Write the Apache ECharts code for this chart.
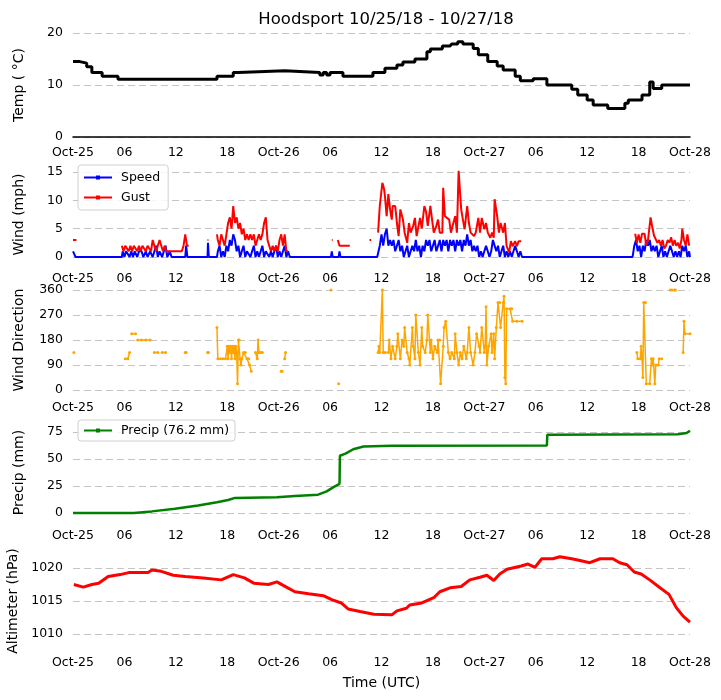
<!DOCTYPE html>
<html>
<head>
<meta charset="utf-8">
<title>Hoodsport</title>
<script src="https://cdn.jsdelivr.net/npm/echarts@6/dist/echarts.min.js"></script>
<style>
  html, body { margin: 0; padding: 0; background: #fff; }
  #main { width: 721px; height: 700px; }
</style>
</head>
<body>
<div id="main"></div>
<script>
// x axis: hours since Oct-25 00:00 UTC
const xTickLabels = ['Oct-25', '06', '12', '18', 'Oct-26', '06', '12', '18', 'Oct-27', '06', '12', '18', 'Oct-28']

// temperature (°C), step changes [hour, value]
const tempPoints = [
  [0, 14.5], [0.8, 14.2], [1.6, 13.5], [2.2, 12.4], [3.4, 11.7], [5.25, 11.1], [16.8, 11.7], [18.7, 12.4],
  [19.3, 12.75], [24.7, 12.4], [28.8, 11.9], [29.2, 12.4], [29.6, 11.9], [30.0, 12.4], [31.5, 11.7],
  [35.0, 12.4], [36.4, 13.2], [37.8, 13.85], [38.5, 14.4], [39.9, 15.0], [41.3, 16.4], [41.7, 16.9],
  [43.1, 17.5], [44.0, 17.3], [44.2, 17.9], [44.9, 18.3], [45.5, 17.9], [46.7, 17.0], [47.3, 15.8],
  [48.4, 14.5], [49.5, 13.65], [50.2, 12.9], [51.6, 11.7], [52.2, 10.8], [53.7, 11.2], [55.3, 10.0],
  [58.2, 9.2], [58.9, 8.1], [60.0, 7.1], [60.7, 6.15], [62.4, 5.5], [64.4, 6.5], [64.8, 7.1], [66.4, 8.1],
  [67.3, 10.6], [67.7, 9.35], [68.7, 10.0], [72, 10.0]
]

// wind speed (mph)
const speedPoints = [
  [0, 1], [0.15, 1], [0.3, 0], [5.7, 0], [5.8, 1], [6.0, 0], [6.2, 1], [6.4, 1], [6.6, 0], [6.8, 1], [7.0, 0],
  [7.2, 1], [7.5, 0], [7.7, 1], [8.0, 1], [8.2, 0], [8.5, 1], [8.7, 0], [9.0, 1], [9.3, 0], [9.5, 1], [9.7, 2],
  [9.9, 0], [10.1, 1], [10.4, 0], [10.6, 1], [10.8, 2], [11.0, 0], [11.3, 1], [11.5, 0], [13.1, 0], [13.2, 2],
  [13.35, 0], [15.7, 0], [15.75, 2.5], [15.85, 0], [16.8, 0], [16.9, 1], [17.1, 2], [17.3, 0], [17.5, 1],
  [17.7, 0], [17.9, 2], [18.1, 1], [18.3, 3], [18.5, 2], [18.7, 4], [18.9, 3], [19.1, 1], [19.3, 2], [19.5, 0],
  [19.7, 1], [19.9, 2], [20.1, 0], [20.3, 1], [20.5, 1], [20.7, 0], [20.9, 1], [21.1, 2], [21.3, 0], [21.5, 1],
  [21.7, 0], [21.9, 1], [22.1, 2], [22.3, 0], [22.5, 1], [22.7, 1], [22.9, 0], [23.1, 1], [23.3, 0], [23.5, 1],
  [23.7, 2], [23.9, 0], [24.1, 1], [24.3, 0], [24.5, 1], [24.7, 2], [24.9, 0], [25.1, 1], [25.3, 0],
  [30.1, 0], [30.2, 1], [30.3, 0], [31.0, 0], [31.1, 1], [31.2, 0],
  [35.5, 0], [35.8, 2], [36.0, 4], [36.2, 2], [36.4, 4], [36.6, 5], [36.8, 2], [37.0, 3], [37.2, 2], [37.4, 3],
  [37.6, 1], [37.8, 2], [38.0, 3], [38.2, 1], [38.4, 2], [38.6, 0], [38.8, 1], [39.0, 2], [39.2, 0], [39.4, 1],
  [39.6, 2], [39.8, 1], [40.0, 3], [40.2, 1], [40.4, 2], [40.6, 0], [40.8, 2], [41.0, 1], [41.2, 3], [41.4, 2],
  [41.6, 3], [41.8, 1], [42.0, 2], [42.2, 3], [42.4, 1], [42.6, 2], [42.8, 3], [43.0, 1], [43.2, 3], [43.4, 2],
  [43.6, 3], [43.8, 1], [44.0, 3], [44.2, 2], [44.4, 3], [44.6, 1], [44.8, 3], [45.0, 2], [45.2, 3], [45.4, 1],
  [45.6, 3], [45.8, 2], [46.0, 4], [46.2, 2], [46.4, 3], [46.6, 1], [46.8, 2], [47.0, 1], [47.2, 2], [47.4, 0],
  [47.6, 1], [47.8, 0], [48.0, 1], [48.2, 2], [48.4, 1], [48.6, 0], [48.8, 1], [49.0, 3], [49.2, 3], [49.4, 1],
  [49.6, 2], [49.8, 0], [50.0, 1], [50.2, 2], [50.4, 0], [50.6, 1], [50.8, 0], [51.0, 1], [51.2, 0], [51.4, 1],
  [51.6, 2], [51.8, 1], [52.0, 0], [52.2, 1], [52.4, 0],
  [65.3, 0], [65.5, 2], [65.7, 3], [65.9, 1], [66.1, 2], [66.3, 0], [66.5, 2], [66.7, 1], [66.9, 3], [67.1, 2],
  [67.3, 3], [67.5, 1], [67.7, 2], [67.9, 1], [68.1, 2], [68.3, 0], [68.5, 1], [68.7, 2], [68.9, 0], [69.1, 1],
  [69.3, 0], [69.5, 1], [69.7, 2], [69.9, 1], [70.1, 0], [70.3, 1], [70.5, 0], [70.7, 1], [70.9, 0], [71.1, 2],
  [71.3, 1], [71.5, 2], [71.7, 0], [71.9, 1], [72.0, 0]
]

// wind gust (mph), null = no gust reported
const gustPoints = [
  [0, 3], [0.4, 3], [0.45, null],
  [5.7, 2], [5.9, 1], [6.1, 2], [6.3, 2], [6.5, 1], [6.7, 2], [6.9, 1], [7.1, 2], [7.3, 2], [7.5, 1], [7.7, 2],
  [7.9, 1], [8.1, 2], [8.3, 2], [8.5, 1], [8.7, 2], [8.9, 2], [9.1, 1], [9.3, 3], [9.5, 2], [9.7, 1], [9.9, 2],
  [10.1, 3], [10.3, 2], [10.5, 1], [10.7, 2], [10.9, 1], [11.1, 1], [11.5, 1], [11.9, 1], [12.3, 1], [12.7, 1],
  [12.9, 2], [13.1, 4], [13.2, 4], [13.3, 2], [13.5, 2], [13.6, null],
  [15.7, 3], [15.8, 3], [15.9, null],
  [16.8, 4], [16.9, 3], [17.1, 2], [17.3, 4], [17.5, 3], [17.7, 2], [17.9, 4], [18.1, 6], [18.3, 7], [18.5, 5],
  [18.7, 9], [18.9, 6], [19.1, 7], [19.3, 5], [19.5, 6], [19.7, 4], [19.9, 5], [20.1, 3], [20.3, 4], [20.5, 3],
  [20.7, 4], [20.9, 3], [21.1, 4], [21.3, 2], [21.5, 3], [21.7, 4], [21.9, 3], [22.1, 4], [22.3, 6], [22.5, 7],
  [22.7, 3], [22.9, 2], [23.1, 1], [23.3, 2], [23.5, 1], [23.7, 2], [23.9, 1], [24.1, 3], [24.3, 4], [24.5, 2],
  [24.7, 4], [24.9, 1], [25.1, 1], [25.2, null],
  [30.2, 3], [30.3, 3], [30.35, null],
  [30.9, 3], [31.1, 2], [31.4, 2], [31.7, 2], [32.0, 2], [32.3, 2], [32.4, null],
  [34.6, 3], [34.8, 3], [34.9, null],
  [35.6, 4.3], [35.8, 9], [36.1, 13.1], [36.3, 12], [36.4, 10.8], [36.6, 7.2], [36.8, 11.1], [37.0, 8.4],
  [37.2, 6.6], [37.3, 9], [37.6, 9], [37.8, 6], [38.0, 3.7], [38.2, 8.4], [38.5, 6.6], [38.7, 4.3], [39.0, 2.5],
  [39.2, 6], [39.4, 4.3], [39.7, 5.5], [39.9, 6.9], [40.1, 3.7], [40.5, 6.9], [40.7, 5], [41.0, 9], [41.2, 8],
  [41.4, 5.5], [41.7, 9], [41.9, 6.6], [42.1, 4.3], [42.4, 5.5], [42.6, 6.6], [42.8, 4.3], [43.1, 4.3],
  [43.2, 12.2], [43.4, 7.2], [43.6, 7.2], [43.9, 6.6], [44.1, 4.3], [44.3, 5.5], [44.6, 7.2], [44.8, 4.3],
  [45.0, 15.2], [45.3, 8.4], [45.5, 6.6], [45.7, 4.9], [46.0, 9], [46.2, 6], [46.4, 4.3], [46.8, 3.7],
  [47.0, 4.3], [47.3, 6.9], [47.5, 4.3], [47.7, 6.9], [48.0, 4.9], [48.2, 6], [48.4, 4.3], [48.7, 3.4],
  [48.9, 4.3], [49.1, 3.4], [49.2, 10.2], [49.5, 7.2], [49.7, 4.3], [49.9, 6], [50.2, 4.3], [50.4, 6],
  [50.6, 1.9], [50.9, 0.8], [51.1, 2.8], [51.3, 1.9], [51.6, 2.8], [51.8, 1.9], [52.0, 2.8], [52.3, 2.8], [52.4, null],
  [65.6, 4.1], [65.8, 2.5], [66.0, 4], [66.2, 2.5], [66.4, 4.1], [66.7, 4.1], [66.9, 2], [67.1, 3], [67.4, 7],
  [67.6, 5.3], [67.8, 3.8], [68.0, 4], [68.2, 2.5], [68.4, 3], [68.6, 2], [68.8, 3], [69.0, 1.5], [69.2, 2],
  [69.4, 3], [69.6, 2.5], [69.8, 3.5], [70.0, 2], [70.2, 3], [70.4, 2], [70.6, 2.5], [70.8, 1.5], [71.0, 3],
  [71.1, 5], [71.3, 3], [71.5, 2], [71.7, 4], [71.9, 2]
]

// wind direction (deg), null = calm
const dirPoints = [
  [0.1, 135], [0.15, null],
  [6.1, 112.5], [6.4, 112.5], [6.6, 135], [6.65, null], [6.85, 202.5], [7.3, 202.5], [7.35, null],
  [7.55, 180], [8.0, 180], [8.5, 180], [9.0, 180], [9.2, null], [9.5, 135], [9.9, 135], [9.95, null],
  [10.4, 135], [10.8, 135], [10.85, null], [13.1, 135], [13.2, 135], [13.25, null], [15.7, 135], [15.8, 135], [15.85, null],
  [16.8, 225], [16.9, 112.5], [17.2, 112.5], [17.5, 112.5], [17.8, 112.5], [18.0, 157.5], [18.1, 112.5],
  [18.2, 157.5], [18.3, 135], [18.4, 157.5], [18.5, 112.5], [18.6, 157.5], [18.7, 135], [18.8, 157.5],
  [18.9, 112.5], [19.0, 157.5], [19.1, 135], [19.2, 22.5], [19.3, 180], [19.4, 180], [19.5, 112.5], [19.6, 90],
  [19.7, 112.5], [19.9, 135], [20.1, 135], [20.3, 112.5], [20.5, 112.5], [20.6, 90], [20.8, 67.5], [20.9, null],
  [21.3, 135], [21.5, 112.5], [21.6, 180], [21.7, 135], [21.9, 135], [22.1, 135], [22.2, null],
  [24.3, 67.5], [24.4, 67.5], [24.45, null], [24.7, 112.5], [24.8, 135], [24.85, null],
  [30.1, 360], [30.2, null], [31.0, 22.5], [31.05, null],
  [35.6, 135], [35.7, 157.5], [35.8, 135], [36.1, 360], [36.2, 135], [36.4, 135], [36.8, 135], [36.9, 180],
  [37.1, 112.5], [37.3, 157.5], [37.6, 112.5], [37.8, 157.5], [37.9, 202.5], [38.2, 112.5], [38.4, 180],
  [38.6, 157.5], [38.7, 225], [39.0, 135], [39.2, 112.5], [39.3, 90], [39.6, 225], [39.7, 157.5], [39.9, 112.5],
  [40.0, 270], [40.3, 135], [40.5, 90], [40.7, 225], [40.8, 157.5], [41.1, 135], [41.3, 180], [41.4, 270],
  [41.7, 135], [41.8, 180], [42.0, 112.5], [42.2, 157.5], [42.5, 135], [42.6, 180], [42.8, 180], [42.9, 22.5],
  [43.2, 157.5], [43.3, 225], [43.5, 247.5], [43.8, 135], [44.0, 112.5], [44.2, 135], [44.5, 112.5],
  [44.6, 202.5], [44.8, 135], [45.0, 90], [45.2, 135], [45.4, 112.5], [45.6, 157.5], [45.9, 112.5], [46.0, 135],
  [46.2, 225], [46.4, 135], [46.7, 90], [46.9, 135], [47.1, 202.5], [47.4, 157.5], [47.5, 135], [47.7, 225],
  [48.0, 135], [48.1, 157.5], [48.2, 300], [48.3, 90], [48.5, 157.5], [48.8, 202.5], [48.9, 135], [49.1, 202.5],
  [49.2, 112.5], [49.4, 225], [49.6, 315], [49.8, 315], [49.9, 225], [50.2, 315], [50.3, 337.5], [50.4, 45],
  [50.5, 22.5], [50.6, 292.5], [51.0, 292.5], [51.2, 292.5], [51.3, 247.5], [51.8, 247.5], [52.4, 247.5], [52.5, null],
  [65.8, 135], [65.9, 112.5], [66.2, 112.5], [66.3, 157.5], [66.4, 112.5], [66.5, 45], [66.6, 315], [66.8, 315],
  [66.9, 22.5], [67.3, 22.5], [67.5, 112.5], [67.6, 90], [67.7, 112.5], [67.9, 22.5], [68.0, 90], [68.3, 90],
  [68.4, 112.5], [68.7, 112.5], [68.75, null],
  [69.7, 360], [69.9, 360], [70.0, null], [70.2, 360], [70.3, 360], [70.35, null],
  [71.2, 135], [71.3, 247.5], [71.4, 202.5], [72.0, 202.5]
]

// accumulated precipitation (mm)
const precipPoints = [
  [0, 0], [7.1, 0], [9.2, 1.5], [11.9, 4], [14.6, 7], [16.8, 10], [18.1, 12], [18.9, 14], [23.8, 14.5],
  [25.9, 15.8], [28.6, 17], [29.6, 20], [30.4, 24], [31.1, 27], [31.15, 53], [31.8, 55], [32.7, 59],
  [33.9, 61.5], [37.2, 62.3], [55.3, 62.5], [55.35, 72.5], [70.6, 73], [71.6, 74], [72, 76.2]
]

// altimeter (hPa)
const altPoints = [
  [0.1, 1017.5], [1.2, 1017.1], [2.2, 1017.5], [3.0, 1017.7], [4.1, 1018.7], [5.5, 1019.0], [6.5, 1019.3],
  [8.75, 1019.3], [9.2, 1019.7], [10.3, 1019.5], [11.7, 1018.9], [13.1, 1018.7], [15.2, 1018.5], [17.3, 1018.2],
  [18.7, 1019.0], [20.0, 1018.5], [21.1, 1017.7], [22.8, 1017.5], [23.8, 1017.9], [24.9, 1017.1], [25.9, 1016.4],
  [27.5, 1016.1], [29.2, 1015.8], [30.2, 1015.2], [31.3, 1014.7], [32.1, 1013.8], [33.5, 1013.4], [35.1, 1013.0],
  [37.2, 1012.9], [37.8, 1013.5], [38.9, 1013.9], [39.3, 1014.4], [40.7, 1014.7], [42.1, 1015.5], [42.8, 1016.4],
  [44.0, 1017.0], [45.3, 1017.2], [46.3, 1018.2], [47.5, 1018.6], [48.3, 1018.9], [49.1, 1018.1], [49.8, 1019.1],
  [50.65, 1019.8], [52.3, 1020.3], [53.1, 1020.6], [53.9, 1020.1], [54.7, 1021.4], [56.0, 1021.4], [56.8, 1021.7],
  [58.2, 1021.4], [59.3, 1021.1], [60.3, 1020.8], [61.5, 1021.4], [63.0, 1021.4], [63.8, 1020.8], [64.65, 1020.5],
  [65.5, 1019.4], [66.3, 1019.1], [67.3, 1018.2], [68.5, 1017.0], [69.55, 1016.0], [70.4, 1014.0], [71.2, 1012.7],
  [72.0, 1011.8]
]

const FONT = 'DejaVu Sans'
const GRID_LINE = { show: true, lineStyle: { color: '#c4c4c4', type: [7, 4], width: 1 } }

// panel layout: pixel top/height of the value range, label offset under each panel
const panels = [
  { top: 33, height: 104, min: 0, max: 20, interval: 10, name: 'Temp ( °C)', labelMargin: 9, axisLine: true },
  { top: 172, height: 85, min: 0, max: 15, interval: 5, name: 'Wind (mph)', labelMargin: 15 },
  { top: 290, height: 100, min: 0, max: 360, interval: 90, name: 'Wind Direction', labelMargin: 11 },
  { top: 432, height: 81, min: 0, max: 75, interval: 25, name: 'Precip (mm)', labelMargin: 16 },
  { top: 568, height: 66, min: 1010, max: 1020, interval: 5, name: 'Altimeter (hPa)', labelMargin: 22 }
]

const chart = echarts.init(document.getElementById('main'), null, { renderer: 'canvas' })

const grid = panels.map(p => ({
  left: 73, right: 31, top: p.top, height: p.height,
  containLabel: false, outerBoundsMode: 'none'
}))

const xAxis = panels.map((p, i) => ({
  type: 'value',
  gridIndex: i,
  min: 0,
  max: 72,
  interval: 6,
  axisLine: { show: !!p.axisLine, onZero: false, lineStyle: { color: '#000', width: 1.5 } },
  axisTick: { show: false },
  splitLine: { show: false },
  axisLabel: {
    margin: p.labelMargin,
    color: '#000',
    fontFamily: FONT,
    fontSize: 12.5,
    showMinLabel: true,
    showMaxLabel: true,
    formatter: v => xTickLabels[Math.round(v / 6)]
  },
  name: i === panels.length - 1 ? 'Time (UTC)' : '',
  nameLocation: 'middle',
  nameGap: 42,
  nameTextStyle: { color: '#000', fontFamily: FONT, fontSize: 14 }
}))

const yAxis = panels.map((p, i) => ({
  type: 'value',
  gridIndex: i,
  min: p.min,
  max: p.max,
  interval: p.interval,
  axisLine: { show: false },
  axisTick: { show: false },
  splitLine: GRID_LINE,
  axisLabel: { margin: 10, color: '#000', fontFamily: FONT, fontSize: 12.5, formatter: v => String(v) },
  name: p.name,
  nameLocation: 'middle',
  nameGap: 47,
  nameTextStyle: { color: '#000', fontFamily: FONT, fontSize: 14 }
}))

const lineIcon = 'path://M0,4 L28,4 L28,6 L0,6 Z M12,3 L16,3 L16,7 L12,7 Z'

function lineSeries(name, idx, data, color, width, extra) {
  return Object.assign({
    name: name,
    type: 'line',
    xAxisIndex: idx,
    yAxisIndex: idx,
    data: data,
    showSymbol: false,
    clip: false,
    connectNulls: false,
    lineStyle: { color: color, width: width },
    itemStyle: { color: color }
  }, extra || {})
}

const legendBase = {
  orient: 'vertical',
  left: 78,
  itemWidth: 28,
  itemHeight: 10,
  icon: lineIcon,
  borderColor: '#d0d0d0',
  borderWidth: 1,
  borderRadius: 3,
  backgroundColor: 'rgba(255,255,255,0.85)',
  textStyle: { fontFamily: FONT, fontSize: 12.5, color: '#000', padding: [0, 0, 0, 4] }
}

const option = {
  animation: false,
  backgroundColor: '#fff',
  title: {
    text: 'Hoodsport 10/25/18 - 10/27/18',
    left: 381,
    top: 6,
    textAlign: 'center',
    textStyle: { fontFamily: FONT, fontSize: 16.5, fontWeight: 'normal', color: '#000' }
  },
  legend: [
    Object.assign({}, legendBase, { data: ['Speed', 'Gust'], top: 165, padding: [6, 8, 6, 6], itemGap: 7 }),
    Object.assign({}, legendBase, { data: ['Precip (76.2 mm)'], top: 420, padding: [4, 6, 4, 6] })
  ],
  grid: grid,
  xAxis: xAxis,
  yAxis: yAxis,
  series: [
    lineSeries('Temp', 0, tempPoints, '#000', 3, { step: 'end' }),
    lineSeries('Speed', 1, speedPoints, '#0000ff', 2),
    lineSeries('Gust', 1, gustPoints, '#ff0000', 2),
    lineSeries('Direction', 2, dirPoints, '#ffa500', 1.5, {
      showSymbol: true, showAllSymbol: true, symbol: 'circle', symbolSize: 3
    }),
    lineSeries('Precip (76.2 mm)', 3, precipPoints, '#008000', 2.5),
    lineSeries('Altimeter', 4, altPoints, '#ff0000', 3)
  ]
}

chart.setOption(option)
</script>
</body>
</html>
